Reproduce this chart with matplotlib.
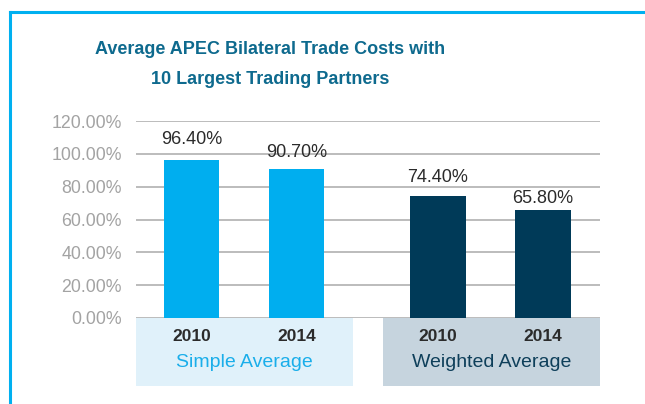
import matplotlib
matplotlib.use("Agg")
import matplotlib.pyplot as plt
from matplotlib.patches import Rectangle
from matplotlib.lines import Line2D

title = "Average APEC Bilateral Trade Costs with\n10 Largest Trading Partners"
groups = ["Simple Average", "Weighted Average"]
years = ["2010", "2014"]
simple_vals = [96.40, 90.70]
weighted_vals = [74.40, 65.80]
yticks = [0, 20, 40, 60, 80, 100, 120]
ytick_labels = ["0.00%", "20.00%", "40.00%", "60.00%", "80.00%", "100.00%", "120.00%"]

light = "#00AEEF"
dark = "#003A58"
box_colors = ["#E0F1FA", "#C6D4DE"]
group_text_colors = ["#1AAEEA", "#0E3F5A"]
label_offsets = [12, 8, 10, 3]  # px gap between bar top and value label

plt.rcParams['font.family'] = ['Liberation Sans', 'DejaVu Sans']

fig = plt.figure(figsize=(6.45, 4.04), dpi=100)
fig.patch.set_facecolor("white")

# frame lines (cyan border top and left)
fig.add_artist(Line2D([9.5/645, 1.0], [1 - 11.5/404, 1 - 11.5/404], transform=fig.transFigure,
                      color="#00B0F0", lw=2.2))
fig.add_artist(Line2D([9.5/645, 9.5/645], [0, 1 - 11.5/404], transform=fig.transFigure,
                      color="#00B0F0", lw=2.2))

for i, line in enumerate(title.split("\n")):
    fig.text(270/645, 1 - (50 + 30 * i)/404, line, ha="center", va="center", fontsize=13,
             fontweight="bold", color="#0E6A8E")

ax = fig.add_axes([136/645, 1 - 318/404, (600 - 136)/645, (318 - 121)/404])
ax.set_xlim(-0.534, 3.928)
ax.set_ylim(0, 120)
for s in ax.spines.values():
    s.set_visible(False)
ax.set_yticks(yticks)
ax.set_yticklabels(ytick_labels)
ax.tick_params(axis="y", length=0, pad=10, labelsize=12.8, labelcolor="#A3A3A3")
ax.tick_params(axis="x", length=0, labelbottom=False)
ax.set_xticks([])
for t in yticks:
    ax.axhline(t, color="#A9A9A9", lw=1.1, zorder=1)

group_starts = [0.0, 2.37]
series = [simple_vals, weighted_vals]
colors = [light, dark]
k = 0
for g, (start, vals, col) in enumerate(zip(group_starts, series, colors)):
    xs = [start + i * 1.01 for i in range(len(vals))]
    ax.bar(xs, vals, width=0.53, color=col, zorder=2)
    for x, v, yr in zip(xs, vals, years):
        ax.annotate(f"{v:.2f}%", (x, v), xytext=(0, label_offsets[k] * 0.72),
                    textcoords="offset points", ha="center", va="bottom",
                    fontsize=13, color="#2B2B2B")
        ax.text(x, -11.3, yr, ha="center", va="center", fontsize=12.5,
                color="#2B2B2B", fontweight="bold")
        k += 1
    left = xs[0] - 0.53
    right = xs[-1] + 0.545
    ax.add_patch(Rectangle((left, -41.4), right - left, 41.4, facecolor=box_colors[g],
                           edgecolor="none", clip_on=False, zorder=0))
    ax.text((left + right) / 2, -27.0, groups[g], ha="center", va="center",
            fontsize=14, color=group_text_colors[g])

fig.savefig("out.png", dpi=100, facecolor="white")
